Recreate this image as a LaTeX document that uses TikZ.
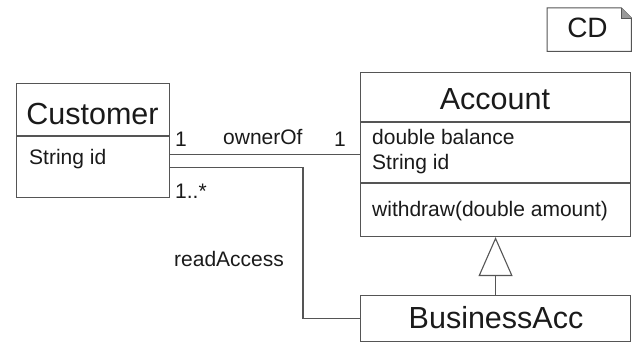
\documentclass[tikz,border=0pt]{standalone}
\usepackage{fontspec}
\setmainfont{Liberation Sans}
\usetikzlibrary{arrows.meta}
\definecolor{ln}{HTML}{555555}
\definecolor{tx}{HTML}{1A1A1A}
\tikzset{
  box/.style={draw=ln, line width=1.1pt, inner sep=0pt, rectangle},
  conn/.style={draw=ln, line width=1.1pt},
  big/.style={font=\fontsize{30.5}{34}\selectfont, text=tx, inner sep=0pt, anchor=base},
  small/.style={font=\fontsize{21}{24}\selectfont, text=tx, inner sep=0pt, anchor=base west},
  lab/.style={font=\fontsize{21}{24}\selectfont, text=tx, inner sep=0pt, anchor=base west},
}
\begin{document}
\begin{tikzpicture}[x=1pt,y=-1pt]
\useasboundingbox (0,0) rectangle (633,344);
% Customer
\node[box, minimum width=153pt, minimum height=114pt, anchor=north west] (cust) at (16,83) {};
\draw[conn] (cust.west |- 0,136) -- (cust.east |- 0,136);
\node[big] (custname) at (92.5,125) {Customer};
\node[small] (custid) at (29,165) {String id};
% Account
\node[box, minimum width=270pt, minimum height=164pt, anchor=north west] (acc) at (360,72) {};
\draw[conn] (acc.west |- 0,122) -- (acc.east |- 0,122);
\draw[conn] (acc.west |- 0,183) -- (acc.east |- 0,183);
\node[big] (accname) at (495,110) {Account};
\node[small] (accbal) at (372,145) {double balance};
\node[small] (accid) at (372,170) {String id};
\node[small] (accwd) at (372,217) {withdraw(double amount)};
% BusinessAcc
\node[box, minimum width=270pt, minimum height=46pt, anchor=north west] (bus) at (360,295) {};
\node[big] (busname) at (496,329) {BusinessAcc};
% CD note
\node[inner sep=0pt, minimum width=84pt, minimum height=43pt, anchor=north west] (cd) at (547,8) {};
\draw[conn, line width=1pt] (cd.north west) -- ([xshift=-10pt]cd.north east) -- ([yshift=-10pt]cd.north east) -- (cd.south east) -- (cd.south west) -- cycle;
\fill[ln!60] ([xshift=-10pt]cd.north east) -- ([yshift=-10pt]cd.north east) -- ([xshift=-10pt,yshift=-10pt]cd.north east) -- cycle;
\draw[ln, line width=0.8pt] ([xshift=-10pt]cd.north east) -- ([xshift=-10pt,yshift=-10pt]cd.north east) -- ([yshift=-10pt]cd.north east);
\node[font=\fontsize{28}{30}\selectfont, text=tx, inner sep=0pt, anchor=base] (cdtext) at (587.5,38) {CD};
% ownerOf association
\draw[conn] (acc.west) -- (cust.east |- acc.west);
\node[lab] (m1) at (175,147) {1};
\node[lab] (own) at (223,145) {ownerOf};
\node[lab] (m2) at (334,147) {1};
% readAccess association
\draw[conn] ([yshift=-27pt]cust.east) -| ([xshift=-57pt]bus.west) -- (bus.west);
\node[lab] (m3) at (175,199) {1..*};
\node[lab] (ra) at (174,267) {readAccess};
% generalization
\draw[conn, -{Triangle[open, length=39pt, width=34pt, line width=1.1pt]}] (bus.north) -- (acc.south);
\end{tikzpicture}
\end{document}
